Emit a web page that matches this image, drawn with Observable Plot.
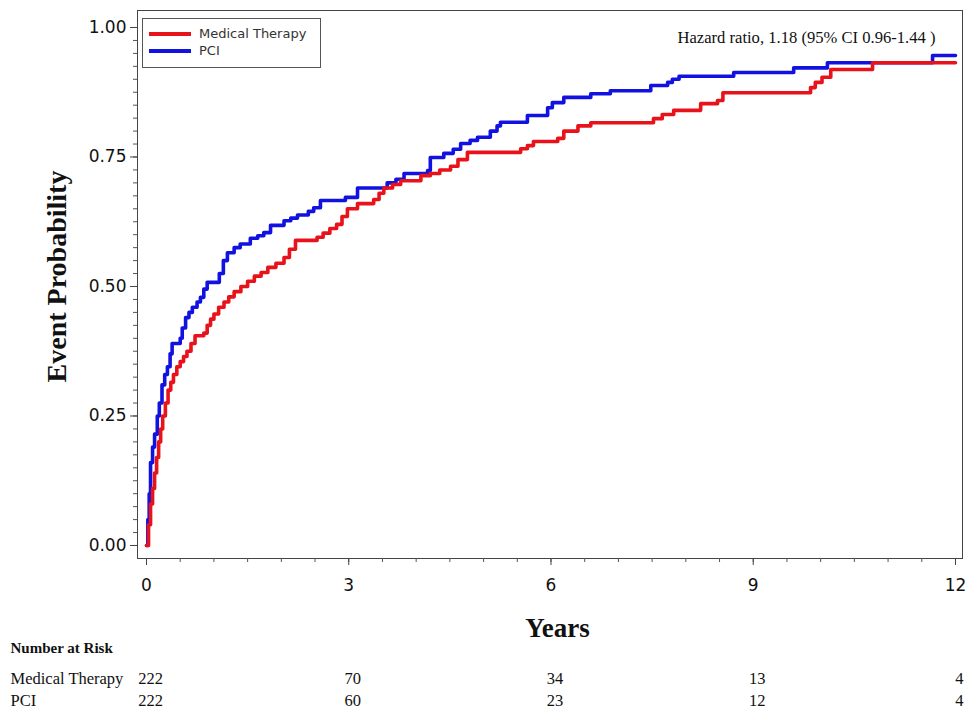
<!DOCTYPE html>
<html>
<head>
<meta charset="utf-8">
<script src="https://cdn.jsdelivr.net/npm/d3@7"></script>
<script src="https://cdn.jsdelivr.net/npm/@observablehq/plot@0.6"></script>
<style>
  body { margin: 0; background: #fff; }
  #wrap { position: relative; width: 969px; height: 713px; }
  #legend { position: absolute; left: 142px; top: 18px; width: 177px; height: 48px; border: 1px solid #555; background: #fff;
            font-family: "DejaVu Sans", sans-serif; font-size: 13px; color: #333; }
  .row { position: absolute; left: 0; height: 16px; width: 100%; }
  .sw { position: absolute; left: 6px; top: 6px; width: 42px; height: 4px; }
  .lab { position: absolute; left: 56px; top: 0; line-height: 16px; }
</style>
</head>
<body>
<div id="wrap"></div>
<script>
// ---- data ----
const groups = ["Medical Therapy", "PCI"];
const colors = ["#e8121a", "#1212e0"];

const medTime = [0, 0.03, 0.06, 0.09, 0.12, 0.15, 0.18, 0.21, 0.24, 0.28, 0.32, 0.36, 0.40, 0.45, 0.50, 0.55, 0.60, 0.66, 0.72, 0.85,
  0.90, 0.95, 1.00, 1.07, 1.15, 1.22, 1.30, 1.40, 1.50, 1.60, 1.70, 1.80, 1.92, 2.04, 2.12, 2.21, 2.53, 2.62, 2.72, 2.82,
  2.90, 2.98, 3.13, 3.37, 3.45, 3.52, 3.65, 3.77, 4.07, 4.21, 4.35, 4.51, 4.62, 4.76, 5.55, 5.65, 5.74, 6.10, 6.19, 6.40,
  6.59, 7.52, 7.65, 7.82, 8.22, 8.47, 8.55, 9.85, 9.92, 10.02, 10.15, 10.77, 12];
const medProb = [0, 0.04, 0.08, 0.11, 0.14, 0.17, 0.20, 0.225, 0.25, 0.275, 0.30, 0.315, 0.33, 0.345, 0.355, 0.365, 0.375, 0.39, 0.405, 0.41,
  0.425, 0.437, 0.447, 0.46, 0.47, 0.48, 0.49, 0.50, 0.51, 0.52, 0.527, 0.537, 0.545, 0.556, 0.572, 0.589, 0.595, 0.603, 0.612, 0.62,
  0.635, 0.65, 0.66, 0.668, 0.68, 0.69, 0.697, 0.704, 0.714, 0.718, 0.725, 0.732, 0.745, 0.759, 0.766, 0.772, 0.78, 0.786, 0.80, 0.81,
  0.816, 0.824, 0.832, 0.84, 0.853, 0.859, 0.874, 0.884, 0.894, 0.904, 0.919, 0.932, 0.932];

const pciTime = [0, 0.02, 0.04, 0.06, 0.09, 0.12, 0.16, 0.19, 0.23, 0.27, 0.31, 0.35, 0.38, 0.50, 0.53, 0.58, 0.63, 0.68, 0.75, 0.80,
  0.85, 0.90, 1.08, 1.14, 1.20, 1.30, 1.39, 1.54, 1.65, 1.74, 1.84, 2.04, 2.14, 2.24, 2.40, 2.48, 2.58, 2.95, 3.13, 3.57,
  3.70, 3.82, 4.17, 4.21, 4.41, 4.55, 4.66, 4.80, 4.91, 5.10, 5.20, 5.25, 5.65, 5.95, 6.02, 6.19, 6.59, 6.88, 7.48, 7.73,
  7.80, 7.90, 8.71, 9.60, 10.10, 11.66, 12];
const pciProb = [0, 0.05, 0.10, 0.16, 0.19, 0.215, 0.25, 0.275, 0.31, 0.33, 0.345, 0.37, 0.39, 0.40, 0.42, 0.44, 0.45, 0.46, 0.47, 0.479,
  0.495, 0.508, 0.525, 0.55, 0.565, 0.575, 0.582, 0.593, 0.598, 0.604, 0.618, 0.627, 0.632, 0.638, 0.645, 0.652, 0.666, 0.672, 0.69, 0.70,
  0.707, 0.718, 0.724, 0.749, 0.757, 0.765, 0.776, 0.782, 0.788, 0.80, 0.81, 0.817, 0.83, 0.845, 0.855, 0.865, 0.872, 0.878, 0.888, 0.894,
  0.90, 0.906, 0.913, 0.922, 0.932, 0.946, 0.946];

const xTicks = [0, 3, 6, 9, 12];
const yTicks = [0, 0.25, 0.5, 0.75, 1];
const riskTimes = [0, 3, 6, 9, 12];
const riskMed = [222, 70, 34, 13, 4];
const riskPCI = [222, 60, 23, 12, 4];

const xLabel = "Years";
const yLabel = "Event Probability";
const riskTitle = "Number at Risk";
const hazardText = "Hazard ratio, 1.18 (95% CI 0.96-1.44 )";

// ---- build tables ----
const medData = medTime.map((t, i) => ({t, p: medProb[i]}));
const pciData = pciTime.map((t, i) => ({t, p: pciProb[i]}));
const riskRows = [
  ...riskTimes.map((t, i) => ({t, g: groups[0], n: riskMed[i]})),
  ...riskTimes.map((t, i) => ({t, g: groups[1], n: riskPCI[i]}))
];
const yMinor = d3.range(0, 1.0001, 0.025);
const xMinor = d3.range(0, 12.0001, 0.5);

const xScale = {domain: [-0.1335, 12.104]};
const serif = "'Liberation Serif', 'Times New Roman', serif";
const sans = "'DejaVu Sans', sans-serif";

const chart = Plot.plot({
  width: 969, height: 640,
  marginLeft: 137, marginRight: 7, marginTop: 10, marginBottom: 82,
  x: xScale,
  y: {domain: [-0.0251, 1.0328]},
  style: {background: "#fff", color: "#222", overflow: "visible"},
  marks: [
    Plot.frame({stroke: "#444", strokeWidth: 1}),
    Plot.axisY({ticks: yMinor, tickSize: 4, tickFormat: () => "", label: null, stroke: "#555"}),
    Plot.axisY({ticks: yTicks, tickSize: 7, tickPadding: 4, tickFormat: d3.format(".2f"), label: null,
                fontSize: 17, fontFamily: sans, stroke: "#444", fill: "#111"}),
    Plot.axisX({ticks: xMinor, tickSize: 4, tickFormat: () => "", label: null, stroke: "#555"}),
    Plot.axisX({ticks: xTicks, tickSize: 7, tickPadding: 13, label: null,
                fontSize: 17, fontFamily: sans, stroke: "#444", fill: "#111"}),
    Plot.line(pciData, {x: "t", y: "p", curve: "step-after", stroke: colors[1], strokeWidth: 3.6}),
    Plot.line(medData, {x: "t", y: "p", curve: "step-after", stroke: colors[0], strokeWidth: 3.6}),
    Plot.text([hazardText], {text: d => d, frameAnchor: "top-right", dx: -27, dy: 27, textAnchor: "end", lineAnchor: "middle",
                fontSize: 16.6, fontFamily: serif, fill: "#111"}),
    Plot.text([yLabel], {text: d => d, frameAnchor: "left", dx: -80, dy: -8, rotate: -90, textAnchor: "middle", lineAnchor: "middle",
                fontSize: 28, fontWeight: "bold", fontFamily: serif, fill: "#111"}),
    Plot.text([xLabel], {text: d => d, frameAnchor: "bottom", dx: 7.5, dy: 70, textAnchor: "middle", lineAnchor: "middle",
                fontSize: 27, fontWeight: "bold", fontFamily: serif, fill: "#111"})
  ]
});

const risk = Plot.plot({
  width: 969, height: 73,
  marginLeft: 137, marginRight: 7, marginTop: 0, marginBottom: 0,
  x: {...xScale, axis: null},
  y: {type: "point", domain: groups, range: [38, 60], padding: 0, axis: null},
  style: {background: "#fff", color: "#111", overflow: "visible"},
  marks: [
    Plot.text([riskTitle], {text: d => d, frameAnchor: "top-left", dx: -127, dy: 8, textAnchor: "start", lineAnchor: "middle",
                fontSize: 15, fontWeight: "bold", fontFamily: serif}),
    Plot.text(groups, {y: d => d, text: d => d, frameAnchor: "left", dx: -127, textAnchor: "start", lineAnchor: "middle",
                fontSize: 16.5, fontFamily: serif}),
    Plot.text(riskRows, {x: "t", y: "g", text: "n", dx: 4, lineAnchor: "middle", fontSize: 16.5, fontFamily: serif})
  ]
});

const wrap = document.getElementById("wrap");
chart.style.display = "block";
risk.style.display = "block";
wrap.appendChild(chart);
wrap.appendChild(risk);

// legend
const legend = document.createElement("div");
legend.id = "legend";
groups.forEach((g, i) => {
  const row = document.createElement("div");
  row.className = "row";
  row.style.top = (7 + i * 17) + "px";
  const sw = document.createElement("div");
  sw.className = "sw";
  sw.style.background = colors[i];
  const lab = document.createElement("div");
  lab.className = "lab";
  lab.textContent = g;
  row.appendChild(sw);
  row.appendChild(lab);
  legend.appendChild(row);
});
wrap.appendChild(legend);
</script>
</body>
</html>
